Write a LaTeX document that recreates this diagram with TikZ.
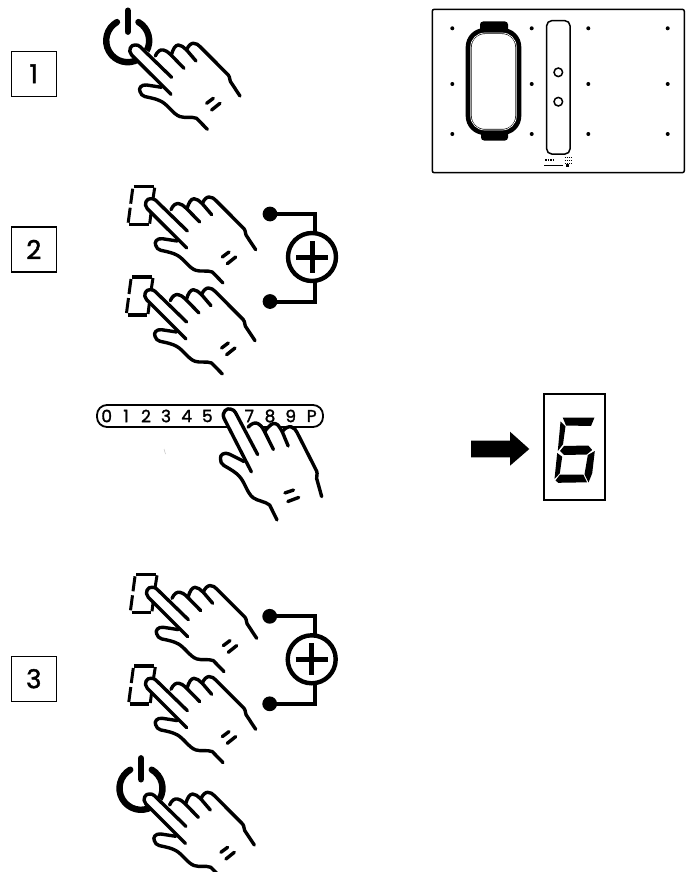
\documentclass[tikz,border=0pt]{standalone}
\usepackage{fontspec}
\setmainfont{Poppins}
\newfontfamily\medfont{Poppins}[FakeBold=1.6]
\usetikzlibrary{calc}

\tikzset{
    hand line/.style = {black, line width = 3.4pt, line cap = round, line join = round},
    num box/.style = {draw = black, line width = 1.3pt, minimum width = 45pt, minimum height = 45pt, inner sep = 0pt, font = \medfont\fontsize{26}{26}\selectfont},
    strip digit/.style = {inner sep = 0pt, font = \medfont\fontsize{17}{17}\selectfont},
    cook dot/.style = {black, fill = black},
    hand/.pic = {
        \fill[white] (37.7, 46) -- (28.3, 39) -- (13.3, 36.7) -- (6.7, 43.3) -- (11.7, 48.3) -- (28.3, 53.3) -- (46.7, 68.3) -- (63.3, 70) -- (74, 81) -- (106.7, 47.7) -- (98.3, 35) -- (95, 26.7) -- (66.7, -1.7) -- (60, -5) -- (53.3, 1.7) -- (45, -3.3) -- (38, 6.7) -- (30, 1.7) -- (22, 7.7) -- (6.7, -1.7) -- (1.7, -3.3) -- (-4, 1.7) -- (-1.7, 6.7) -- cycle;
        \draw[hand line] (37.7, 46) -- (-1.7, 6.7) .. controls (-6, 2) and (-2, -4) .. (1.7, -3.3) .. controls (4, -3.5) and (5, -3) .. (6.7, -1.7) -- (38.3, 29);
        \draw[hand line] (22, 7.7) .. controls (24, 3) and (27, 1) .. (30, 1.7) .. controls (32, 2) and (34, 3) .. (38, 7) -- (50.7, 20);
        \draw[hand line] (38, 6.7) .. controls (40, 0) and (42, -3) .. (45, -3.3) .. controls (48, -3.5) and (50, -1) .. (53.3, 1.7) -- (62.7, 12.7);
        \draw[hand line] (53.3, 1.7) .. controls (55, -3) and (58, -5) .. (60, -5) .. controls (63, -5) and (65, -3.5) .. (66.7, -1.7) -- (95, 26.7) .. controls (97, 29) and (96, 33) .. (98.3, 35) -- (106.7, 47.7);
        \draw[hand line] (28.3, 39) -- (13.3, 36.7) .. controls (8, 36) and (5, 40) .. (6.7, 43.3) .. controls (7.5, 46) and (9, 47.5) .. (11.7, 48.3) .. controls (20, 50) and (24, 51) .. (28.3, 53.3) .. controls (35, 57) and (40, 66) .. (46.7, 68.3) .. controls (52, 70) and (58, 68) .. (63.3, 70) -- (74, 81);
        \draw[hand line] (73.3, 55) -- (80, 50);
        \draw[hand line] (78.3, 61.7) -- (86.7, 55);
    },
    seg box/.pic = {
        \draw[black, line width = 3.4pt] (1, 1) -- (21, 1);
        \draw[black, line width = 3pt] (22, 2) -- (19.5, 18);
        \draw[black, line width = 3pt] (19, 22) -- (17, 38);
        \draw[black, line width = 3pt] (0, 3) -- (-2, 18);
        \draw[black, line width = 3pt] (-2.5, 22) -- (-4.5, 37);
        \draw[black, line width = 3.4pt] (-3.5, 39) -- (16, 39);
    },
    power/.pic = {
        \draw[black, line width = 6.4pt, line cap = round] (0, -30) -- (0, -9);
        \draw[black, line width = 6.4pt, line cap = round] (-120:21.5) arc[start angle = -120, end angle = -300, radius = 21.5];
        \draw[black, line width = 6.4pt, line cap = round] (-60:21.5) arc[start angle = -60, end angle = 30, radius = 21.5];
    },
    plus sign/.pic = {
        \draw[black, line width = 4.4pt] (0, 0) circle (24);
        \draw[black, line width = 5pt] (-16, 0) -- (16, 0);
        \draw[black, line width = 5pt] (0, -16) -- (0, 16);
        \fill[black] (-42, -43) circle (7.4);
        \fill[black] (-42, 44.5) circle (7.4);
        \draw[black, line width = 4pt] (-42, -43) -- (3, -43) -- (3, -24);
        \draw[black, line width = 4pt] (-42, 44.5) -- (3, 44.5) -- (3, 24);
    }
}

\begin{document}
\begin{tikzpicture}[x = 1pt, y = -1pt]
    \useasboundingbox (0, 0) rectangle (689, 872);

    % step boxes
    \node[num box] (box_one) at (33.8, 73.8) {1};
    \node[num box] (box_two) at (33.8, 249.5) {2};
    \node[num box] (box_three) at (33.8, 678.7) {3};

    % step 1
    \pic at (127.7, 40.7) {power};
    \pic at (133.3, 48.3) {hand};

    % cooktop
    \draw[black, line width = 1.5pt, rounded corners = 2pt] (432.3, 9.3) rectangle (684.3, 172.7);
    \foreach \dotx in {452.3, 531.7, 588.3, 667.7} {
        \foreach \doty in {28.3, 84, 134} {
            \fill[cook dot] (\dotx, \doty) circle (2);
        }
    }
    \fill[black, rounded corners = 3pt] (480, 21.5) rectangle (508, 34);
    \fill[black, rounded corners = 3pt] (481, 130) rectangle (508, 140.5);
    \draw[black, line width = 6pt, rounded corners = 16pt, fill = white] (468.7, 31) rectangle (518.3, 132);
    \draw[white, line width = 0.7pt, rounded corners = 14pt] (470.7, 33) rectangle (516.3, 130);
    \draw[black, line width = 1.5pt, rounded corners = 5pt] (546.7, 20.7) rectangle (570, 154);
    \draw[black, line width = 1.5pt] (558.3, 72.3) circle (4.3);
    \draw[black, line width = 1.5pt] (558.3, 101.7) circle (4.3);
    \draw[black, line width = 1.4pt, dash pattern = on 1.5pt off 1pt] (545, 160) -- (553, 160);
    \draw[black, line width = 1.5pt, dash pattern = on 1.5pt off 0.5pt] (544, 165.7) -- (563, 165.7);
    \fill[black] (566, 164) rectangle (568.5, 167);
    \foreach \marky in {157, 160, 163} {
        \draw[black, line width = 0.7pt, dash pattern = on 1pt off 1pt] (564.5, \marky) -- (571, \marky);
    }

    % step 2
    \pic at (132.7, 185.7) {seg box};
    \pic at (149, 202) {hand};
    \pic at (131, 276) {seg box};
    \pic at (148.3, 293) {hand};
    \pic at (312, 257) {plus sign};

    % digit strip
    \draw[black, line width = 1.8pt, rounded corners = 10pt] (97, 405) rectangle (323, 427);
    \foreach \digit/\digitx in {0/106.7, 1/126, 2/146, 3/166, 4/186.7, 5/207.3, 7/249.3, 8/270, 9/290.7, P/311.7} {
        \node[strip digit] (digit_\digit) at (\digitx, 416) {\digit};
    }
    \draw[black!25, line width = 0.5pt] (164, 449) -- (165.5, 454);
    \pic[scale = 1.08, rotate = -18] at (228, 412) {hand};

    % result display
    \fill[black] (471, 440.7) -- (510, 440.7) -- (510, 431.7) -- (529.3, 449) -- (510, 465.7) -- (510, 457.3) -- (471, 457.3) -- cycle;
    \draw[black, line width = 2.4pt] (544, 394) rectangle (605, 500);
    \fill[black] (562.7, 417.5) -- (594.5, 417.5) -- (591, 426) -- (566, 425.5) -- cycle;
    \fill[black] (560.5, 421.5) -- (565.5, 426.3) -- (563, 444.3) -- (557.8, 451) -- cycle;
    \fill[black] (560, 451) -- (564, 446) -- (588.3, 445.5) -- (592.2, 450) -- (586.7, 454.5) -- (564, 455) -- cycle;
    \fill[black] (557.2, 453) -- (562.2, 456.7) -- (559.8, 473.3) -- (554.5, 479) -- cycle;
    \fill[black] (555.5, 480.5) -- (560, 474.5) -- (583.3, 474.5) -- (587, 482.3) -- (558.3, 482.8) -- cycle;
    \fill[black] (594.8, 451) -- (592.2, 473.3) -- (588.5, 482.5) -- (584.5, 474.3) -- (587.8, 455) -- cycle;

    % step 3
    \pic at (135, 573.3) {seg box};
    \pic at (150, 590.6) {hand};
    \pic at (133.3, 665) {seg box};
    \pic at (149, 681.6) {hand};
    \pic at (311.7, 659.3) {plus sign};
    \pic at (141, 788.3) {power};
    \pic at (147.6, 797.3) {hand};
\end{tikzpicture}
\end{document}
